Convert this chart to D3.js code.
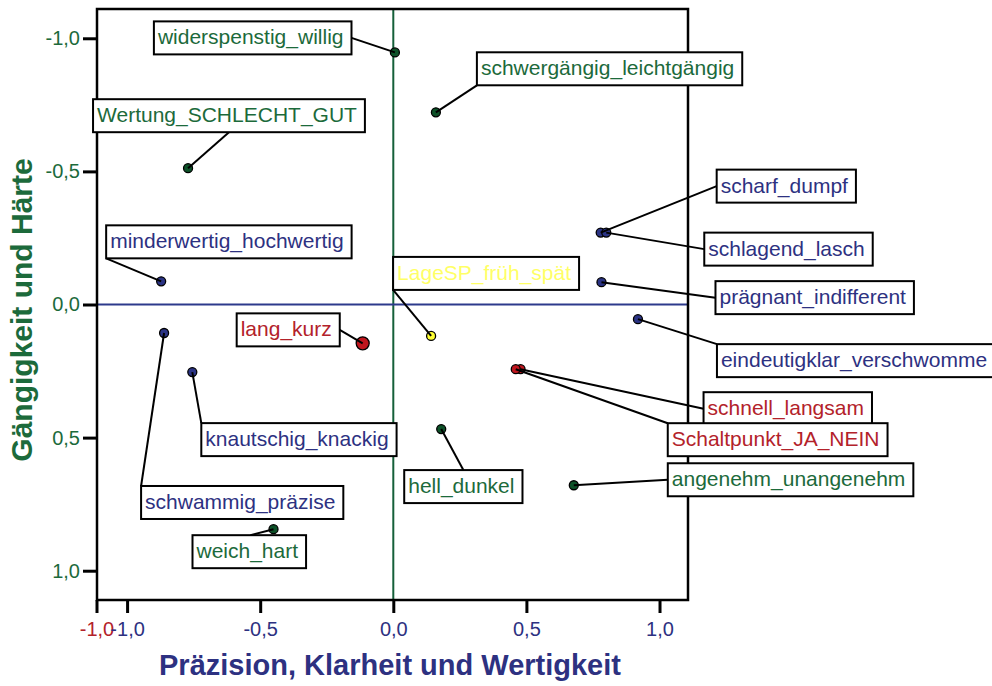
<!DOCTYPE html>
<html><head><meta charset="utf-8">
<script src="https://cdn.jsdelivr.net/npm/d3@7"></script>
<style>body{margin:0;background:#fff} text{font-family:"Liberation Sans",Arial,sans-serif}</style>
</head><body><svg id="c" width="992" height="686"></svg>
<script>
// ---- data ----
const names = ["widerspenstig_willig","schwergängig_leichtgängig","Wertung_SCHLECHT_GUT","scharf_dumpf","schlagend_lasch","prägnant_indifferent","eindeutigklar_verschwomme","schnell_langsam","Schaltpunkt_JA_NEIN","angenehm_unangenehm","hell_dunkel","LageSP_früh_spät","lang_kurz","minderwertig_hochwertig","knautschig_knackig","schwammig_präzise","weich_hart"];
const xValues = [0.006,0.160,-0.771,0.779,0.800,0.782,0.919,0.478,0.460,0.678,0.180,0.142,-0.115,-0.872,-0.755,-0.861,-0.450];
const yValues = [-0.947,-0.722,-0.512,-0.270,-0.270,-0.084,0.055,0.243,0.243,0.679,0.468,0.118,0.146,-0.087,0.254,0.107,0.844];
const groups = ["g","g","g","b","b","b","b","r","r","g","g","y","r","b","b","b","g"];
const xTicks = [-1,-0.5,0,0.5,1];
const yTicks = [-1,-0.5,0,0.5,1];
const extraXTick = -1;
const xTitle = "Präzision, Klarheit und Wertigkeit";
const yTitle = "Gängigkeit und Härte";

// ---- layout (label box offsets from point in px, leader anchor fraction on box) ----
const labelLayout = [
  [-241,-31,1,0.5],[41,-60,0,1],[-95,-69,0.5,1],[116,-63,0,0.5],[98,0,0,0.5],
  [114,-1,0,0.5],[79,25,0,0],[183,23,0,0.5],[152,54,0,0],[94,-22,0,0.5],
  [-37,41,0.5,0],[-38,-79,0,1],[-126,-30,1,0.5],[-55,-56,0,1],[9,51,0,0],
  [-23,153,0,0],[-81,6,0.51,0]
];
const textCol = {g:"#1c6a3b", b:"#2d3181", r:"#b3222a", y:"#ffff66"};
const ptCol = {g:"#0d5128", b:"#2a3384", r:"#c0161e", y:"#ffff33"};

const svg = d3.select("#c");
const x = d3.scaleLinear().domain([-1.113,1.107]).range([97,688]);
const y = d3.scaleLinear().domain([-1.11,1.11]).range([9,600]);
const loc = d3.formatLocale({decimal:",",thousands:".",grouping:[3],currency:["","€"],minus:"-"});
const fmt = loc.format(".1f");

// zero lines
svg.append("line").attr("x1",x(0)).attr("x2",x(0)).attr("y1",y.range()[0]).attr("y2",y.range()[1])
  .attr("stroke","#15603a").attr("stroke-width",2);
svg.append("line").attr("x1",x.range()[0]).attr("x2",x.range()[1]).attr("y1",y(0)).attr("y2",y(0))
  .attr("stroke","#2d3a8c").attr("stroke-width",1.8);

// frame
svg.append("rect").attr("x",x.range()[0]).attr("y",y.range()[0])
  .attr("width",x.range()[1]-x.range()[0]).attr("height",y.range()[1]-y.range()[0])
  .attr("fill","none").attr("stroke","#000").attr("stroke-width",2.5);

// axes
const gy = svg.append("g").attr("transform",`translate(${x.range()[0]},0)`)
  .call(d3.axisLeft(y).tickValues(yTicks).tickFormat(fmt).tickSize(14).tickPadding(3));
gy.select(".domain").remove();
gy.selectAll(".tick line").attr("stroke","#000").attr("stroke-width",3);
gy.selectAll(".tick text").attr("fill","#1c6a3b").style("font-size","20px").style("font-family","Liberation Sans, Arial, sans-serif");

const gx = svg.append("g").attr("transform",`translate(0,${y.range()[1]})`)
  .call(d3.axisBottom(x).tickValues(xTicks).tickFormat(fmt).tickSize(13).tickPadding(9));
gx.select(".domain").remove();
gx.selectAll(".tick line").attr("stroke","#000").attr("stroke-width",3);
gx.selectAll(".tick text").attr("fill","#2d3181").style("font-size","20px").style("font-family","Liberation Sans, Arial, sans-serif");

// extra red tick at left edge
const ex = x.range()[0];
svg.append("line").attr("x1",ex).attr("x2",ex).attr("y1",y.range()[1]).attr("y2",y.range()[1]+13)
  .attr("stroke","#000").attr("stroke-width",3);
svg.append("text").attr("x",ex).attr("y",y.range()[1]+36).attr("text-anchor","middle")
  .attr("fill","#b3222a").style("font-size","20px").text(fmt(extraXTick));
gx.raise();

// titles
svg.append("text").attr("x",390).attr("y",675).attr("text-anchor","middle")
  .attr("fill","#2d3181").style("font-size","29px").style("font-weight","bold").text(xTitle);
svg.append("text").attr("transform","translate(32,310) rotate(-90)").attr("text-anchor","middle")
  .attr("fill","#1c6a3b").style("font-size","30px").style("font-weight","bold").text(yTitle);

// labels
const data = names.map((n,i)=>({n, xv:xValues[i], yv:yValues[i], g:groups[i], L:labelLayout[i]}));
const BH = 33;
const leaders = svg.append("g");
const pts = svg.append("g");
const boxes = svg.append("g");

data.forEach(d=>{
  const px = x(d.xv), py = y(d.yv);
  const bx = px + d.L[0], by = py + d.L[1];
  const bg = boxes.append("g");
  const rect = bg.append("rect");
  const t = bg.append("text").attr("x",bx+4).attr("y",by+23).attr("fill",textCol[d.g])
    .style("font-size","21px").text(d.n);
  const w = t.node().getComputedTextLength() + 12;
  rect.attr("x",bx).attr("y",by).attr("width",w).attr("height",BH)
    .attr("fill","#fff").attr("stroke","#000").attr("stroke-width",2);
  leaders.append("line").attr("x1",bx + d.L[2]*w).attr("y1",by + d.L[3]*BH)
    .attr("x2",px).attr("y2",py).attr("stroke","#000").attr("stroke-width",2);
  pts.append("circle").attr("cx",px).attr("cy",py).attr("r", d.n==="lang_kurz"?6.5:4.5)
    .attr("fill",ptCol[d.g]).attr("stroke","#000").attr("stroke-width",1.3);
});
leaders.raise();
boxes.raise();
</script></body></html>
